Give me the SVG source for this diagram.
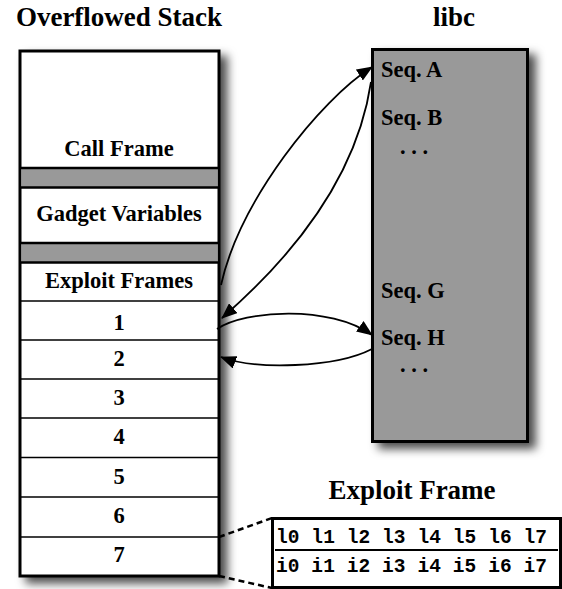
<svg xmlns="http://www.w3.org/2000/svg" width="562" height="589" viewBox="0 0 562 589">
<style>
.t{font-family:"Liberation Serif","Times New Roman",serif;font-weight:bold;fill:#000}
.title{font-size:27px}
.lbl{font-size:22.5px}
.mono{font-family:"Liberation Mono","Courier New",monospace;font-weight:bold;font-size:19.5px;fill:#000}
.row{stroke:#000;stroke-width:1.5}
.sep{stroke:#000;stroke-width:2.5}
.conn{fill:none;stroke:#000;stroke-width:1.8}
.dash{fill:none;stroke:#000;stroke-width:2.5;stroke-dasharray:6 4}
</style>
<defs>
<filter id="sh" x="-10%" y="-10%" width="140%" height="130%">
<feDropShadow dx="7" dy="6" stdDeviation="5" flood-color="#000" flood-opacity="0.7"/>
</filter>
<marker id="ah" viewBox="0 0 16 13" markerUnits="userSpaceOnUse" markerWidth="16" markerHeight="13" refX="15" refY="6.5" orient="auto">
<path d="M0,0 L16,6.5 L0,13 z" fill="#000"/>
</marker>
</defs>
<rect width="562" height="589" fill="#fff"/>
<text class="t title" x="119" y="26" text-anchor="middle">Overflowed Stack</text>
<text class="t title" x="454" y="26" text-anchor="middle">libc</text>

<g id="stack">
<rect x="20" y="51" width="199" height="525" fill="#fff" stroke="#000" stroke-width="3" filter="url(#sh)"/>
<rect x="21.5" y="168" width="196" height="19.5" fill="#999"/>
<rect x="21.5" y="243" width="196" height="19.5" fill="#999"/>
<line class="sep" x1="20" y1="168" x2="219" y2="168"/>
<line class="sep" x1="20" y1="187.5" x2="219" y2="187.5"/>
<line class="sep" x1="20" y1="243" x2="219" y2="243"/>
<line class="sep" x1="20" y1="262.5" x2="219" y2="262.5"/>
<line class="row" x1="20" y1="301" x2="219" y2="301"/>
<line class="row" x1="20" y1="340" x2="219" y2="340"/>
<line class="row" x1="20" y1="379" x2="219" y2="379"/>
<line class="row" x1="20" y1="418" x2="219" y2="418"/>
<line class="row" x1="20" y1="457.5" x2="219" y2="457.5"/>
<line class="row" x1="20" y1="497" x2="219" y2="497"/>
<line class="row" x1="20" y1="537" x2="219" y2="537"/>
<text class="t lbl" x="119" y="156" text-anchor="middle">Call Frame</text>
<text class="t lbl" x="119" y="221" text-anchor="middle">Gadget Variables</text>
<text class="t lbl" x="119" y="288" text-anchor="middle">Exploit Frames</text>
<text class="t lbl" x="119" y="330" text-anchor="middle">1</text>
<text class="t lbl" x="119" y="366" text-anchor="middle">2</text>
<text class="t lbl" x="119" y="405" text-anchor="middle">3</text>
<text class="t lbl" x="119" y="444" text-anchor="middle">4</text>
<text class="t lbl" x="119" y="484" text-anchor="middle">5</text>
<text class="t lbl" x="119" y="523" text-anchor="middle">6</text>
<text class="t lbl" x="119" y="562" text-anchor="middle">7</text>
</g>

<g id="libc">
<rect x="372.5" y="49.5" width="155" height="392" fill="#999" stroke="#000" stroke-width="3" filter="url(#sh)"/>
<text class="t lbl" x="381" y="77">Seq. A</text>
<text class="t lbl" x="381" y="125">Seq. B</text>
<text class="t lbl" x="400" y="154">. . .</text>
<text class="t lbl" x="381" y="298">Seq. G</text>
<text class="t lbl" x="381" y="345">Seq. H</text>
<text class="t lbl" x="400" y="372">. . .</text>
</g>

<g id="exploit-frame">
<text class="t title" x="412" y="499" text-anchor="middle">Exploit Frame</text>
<rect x="272.5" y="518.5" width="288" height="69" fill="#fff" stroke="#000" stroke-width="3"/>
<line x1="275" y1="550" x2="558" y2="550" stroke="#000" stroke-width="2"/>
<text class="mono" x="276" y="543" textLength="271" lengthAdjust="spacing">l0 l1 l2 l3 l4 l5 l6 l7</text>
<text class="mono" x="276" y="572" textLength="271" lengthAdjust="spacing">i0 i1 i2 i3 i4 i5 i6 i7</text>
</g>

<g id="connectors">
<path class="conn" d="M221,285 C240,200 320,100 372,67" marker-end="url(#ah)"/>
<path class="conn" d="M371,82 C358,170 300,250 222,318" marker-end="url(#ah)"/>
<path class="conn" d="M217,329 C245,310 330,305 372,335" marker-end="url(#ah)"/>
<path class="conn" d="M372,349 C335,368 255,370 221,357" marker-end="url(#ah)"/>
<line class="dash" x1="219" y1="537" x2="272" y2="518"/>
<line class="dash" x1="219" y1="576" x2="272" y2="588"/>
</g>
</svg>
